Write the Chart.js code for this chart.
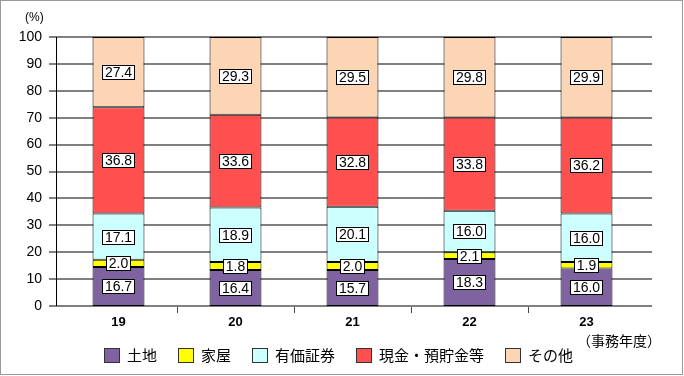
<!DOCTYPE html>
<html>
<head>
<meta charset="utf-8">
<script src="https://cdn.jsdelivr.net/npm/chart.js@4"></script>
<style>
  html, body { margin: 0; padding: 0; background: #fff; }
  #wrap { position: relative; width: 684px; height: 376px; overflow: hidden; }
  #frame { position: absolute; left: 0; top: 0; width: 681px; height: 373px; border: 1px solid #999; pointer-events: none; }
  canvas { position: absolute; left: 0; top: 0; }
  .txt { position: absolute; color: #000; white-space: nowrap; }
  #unitY { left: 25px; top: 10px; font: 12px "Liberation Sans", Arial, sans-serif; }
  #unitX { left: 577px; top: 331px; font: 14px "Noto Sans CJK JP", sans-serif; line-height: 19px; }
  #legend { position: absolute; left: 104px; top: 346px; display: flex; align-items: center; font: 15px "Noto Sans CJK JP", sans-serif; line-height: 18px; }
  .item { display: flex; align-items: center; margin-right: 21px; }
  .sw { width: 14px; height: 13px; border: 1px solid #333; margin-right: 7px; }
</style>
</head>
<body>
<div id="wrap">
  <canvas id="c" width="684" height="376"></canvas>
  <div id="frame"></div>
  <div id="unitY" class="txt">(%)</div>
  <div id="unitX" class="txt">（事務年度）</div>
  <div id="legend"></div>
</div>
<script>
// Categories (事務年度)
const categories = ['19', '20', '21', '22', '23'];
const seriesNames = ['土地', '家屋', '有価証券', '現金・預貯金等', 'その他'];
// Segment heights as drawn in the picture (%)
const land       = [14.5, 13.4, 13.4, 17.5, 13.9];
const house      = [2.7, 3.0, 3.0, 2.5, 2.5];
const securities = [17.2, 20.2, 20.5, 15.4, 18.0];
const cash       = [39.5, 34.5, 33.2, 34.7, 35.7];
const other      = [26.1, 28.9, 29.9, 29.9, 29.9];
// Printed value labels
const landLabels       = ['16.7', '16.4', '15.7', '18.3', '16.0'];
const houseLabels      = ['2.0', '1.8', '2.0', '2.1', '1.9'];
const securitiesLabels = ['17.1', '18.9', '20.1', '16.0', '16.0'];
const cashLabels       = ['36.8', '33.6', '32.8', '33.8', '36.2'];
const otherLabels      = ['27.4', '29.3', '29.5', '29.8', '29.9'];
// Y tick labels
const yTicks = ['0', '10', '20', '30', '40', '50', '60', '70', '80', '90', '100'];

const colors = ['#7F63A1', '#FFFF00', '#CCFFFF', '#FF5050', '#FCD5B4'];
const seriesData = [land, house, securities, cash, other];
const seriesLabels = [landLabels, houseLabels, securitiesLabels, cashLabels, otherLabels];

// HTML legend
const legend = document.getElementById('legend');
seriesNames.forEach((n, i) => {
  const it = document.createElement('div'); it.className = 'item';
  const sw = document.createElement('div'); sw.className = 'sw'; sw.style.background = colors[i];
  const t = document.createElement('span'); t.textContent = n;
  it.appendChild(sw); it.appendChild(t); legend.appendChild(it);
});

const gridPlugin = {
  id: 'gridPlugin',
  beforeDatasetsDraw(chart) {
    const ctx = chart.ctx, y = chart.scales.y, x = chart.scales.x, a = chart.chartArea;
    ctx.save();
    ctx.strokeStyle = '#808080';
    ctx.lineWidth = 2;
    y.ticks.forEach(t => {
      const py = Math.round(y.getPixelForValue(t.value));
      ctx.beginPath(); ctx.moveTo(49, py); ctx.lineTo(652, py); ctx.stroke();
    });
    // x tick marks between categories
    ctx.strokeStyle = '#444';
    ctx.lineWidth = 1;
    for (let i = 0; i < categories.length - 1; i++) {
      const px = Math.round((x.getPixelForValue(i) + x.getPixelForValue(i + 1)) / 2) + 0.5;
      ctx.beginPath(); ctx.moveTo(px, a.bottom + 1); ctx.lineTo(px, a.bottom + 7); ctx.stroke();
    }
    // y axis line
    ctx.strokeStyle = '#000';
    ctx.beginPath(); ctx.moveTo(56.5, Math.round(y.getPixelForValue(100))); ctx.lineTo(56.5, Math.round(y.getPixelForValue(0))); ctx.stroke();
    ctx.restore();
  },
  afterDatasetsDraw(chart) {
    const ctx = chart.ctx;
    ctx.save();
    ctx.font = '14px "Liberation Sans", Arial, sans-serif';
    ctx.textAlign = 'center';
    ctx.textBaseline = 'middle';
    chart.data.datasets.forEach((ds, di) => {
      const meta = chart.getDatasetMeta(di);
      meta.data.forEach((bar, i) => {
        const txt = seriesLabels[di][i];
        const cy = Math.round((bar.y + bar.base) / 2);
        const w = Math.round(ctx.measureText(txt).width) + 6;
        const h = 15;
        const bx = Math.round(bar.x - w / 2), by = cy - 7;
        ctx.fillStyle = '#fff';
        ctx.fillRect(bx, by, w, h);
        ctx.strokeStyle = '#000';
        ctx.lineWidth = 1;
        ctx.strokeRect(bx + 0.5, by + 0.5, w - 1, h - 1);
        ctx.fillStyle = '#000';
        ctx.fillText(txt, bar.x, cy + 1);
      });
    });
    ctx.restore();
  }
};

new Chart(document.getElementById('c'), {
  type: 'bar',
  data: {
    labels: categories,
    datasets: seriesNames.map((n, i) => ({
      label: n,
      data: seriesData[i],
      backgroundColor: colors[i],
      borderColor: '#000',
      borderWidth: 1,
      borderSkipped: false,
      categoryPercentage: 1.0,
      barPercentage: 0.444
    }))
  },
  options: {
    responsive: false,
    animation: false,
    devicePixelRatio: 1,
    layout: { padding: { left: 0, right: 39, top: 37, bottom: 0 } },
    plugins: { legend: { display: false }, tooltip: { enabled: false } },
    scales: {
      x: {
        stacked: true,
        grid: { display: false, drawTicks: false },
        border: { display: false },
        ticks: { color: '#000', font: { family: '"Liberation Sans", Arial, sans-serif', size: 13, weight: 'bold' }, padding: 9 },
        afterFit(s) { s.height = 70; }
      },
      y: {
        stacked: true,
        min: 0, max: 100,
        grid: { display: false, drawTicks: false },
        border: { display: false },
        ticks: {
          stepSize: 10,
          color: '#000',
          padding: 18,
          font: { family: '"Liberation Sans", Arial, sans-serif', size: 14 },
          callback: (v, i) => yTicks[i]
        },
        afterFit(s) { s.width = 60; }
      }
    }
  },
  plugins: [gridPlugin]
});
</script>
</body>
</html>
